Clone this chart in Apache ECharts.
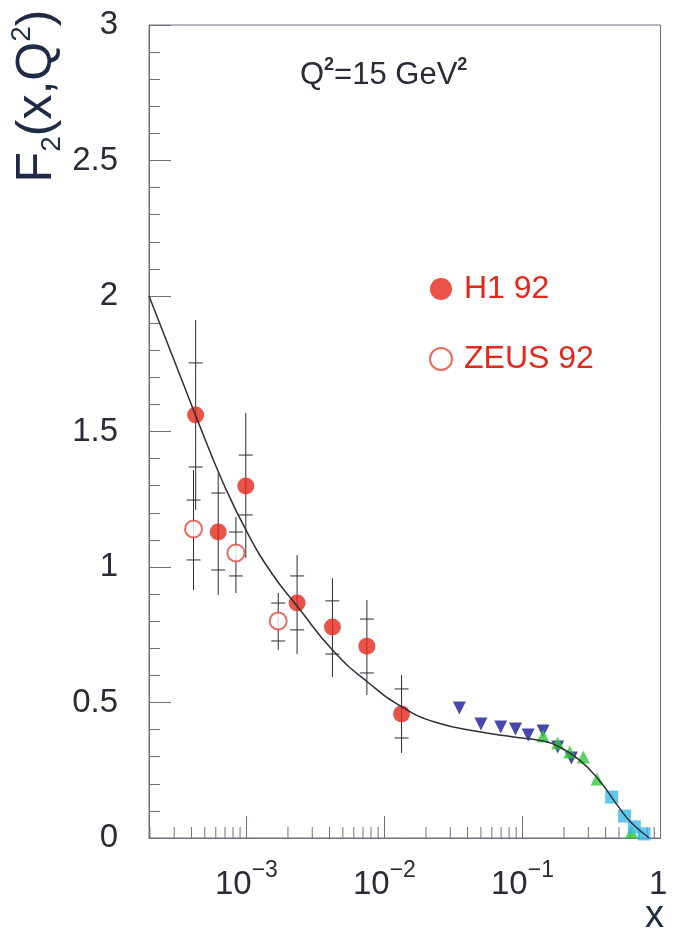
<!DOCTYPE html>
<html>
<head>
<meta charset="utf-8">
<script src="https://cdn.jsdelivr.net/npm/echarts@6/dist/echarts.min.js"></script>
<style>
  html, body { margin: 0; padding: 0; background: #fff; }
  #chart { width: 675px; height: 940px; }
</style>
</head>
<body>
<div id="chart"></div>
<script>
// fitted curve F2(x) at Q2 = 15 GeV2
const curveX = [1.97e-4, 2.99e-4, 4.51e-4, 6.79e-4, 1.02e-3, 1.54e-3, 2.33e-3, 4.27e-3, 7.7e-3, 1.35e-2, 2.31e-2, 0.050, 0.086, 0.141, 0.180, 0.258, 0.358, 0.498, 0.617, 0.828]
const curveY = [2.0, 1.764, 1.531, 1.310, 1.125, 0.974, 0.856, 0.690, 0.572, 0.483, 0.428, 0.391, 0.373, 0.358, 0.339, 0.288, 0.214, 0.114, 0.055, 0.0]

// H1 92 (filled circles) with inner / outer error ends
const h1X = [4.29e-4, 6.25e-4, 9.9e-4, 2.33e-3, 4.2e-3, 7.46e-3, 1.33e-2]
const h1Y = [1.561, 1.129, 1.299, 0.867, 0.779, 0.708, 0.458]
const h1Lo = [1.210, 0.897, 1.033, 0.679, 0.594, 0.528, 0.314]
const h1Hi = [1.911, 1.347, 1.568, 1.044, 0.959, 0.878, 0.601]
const h1InLo = [1.369, 0.989, 1.192, 0.768, 0.679, 0.609, 0.369]
const h1InHi = [1.753, 1.273, 1.413, 0.967, 0.875, 0.808, 0.550]

// ZEUS 92 (open circles)
const zeusX = [4.14e-4, 8.4e-4, 1.70e-3]
const zeusY = [1.140, 1.052, 0.801]
const zeusLo = [0.915, 0.904, 0.694]
const zeusHi = [1.358, 1.185, 0.904]
const zeusInLo = [1.026, 0.967, 0.727]
const zeusInHi = [1.247, 1.129, 0.867]

// fixed-target data
const blueX = [0.0349, 0.050, 0.0695, 0.089, 0.110, 0.141, 0.18, 0.226]
const blueY = [0.480, 0.421, 0.410, 0.402, 0.380, 0.395, 0.336, 0.295]
const greenX = [0.141, 0.18, 0.22, 0.276, 0.347, 0.616]
const greenY = [0.376, 0.351, 0.317, 0.299, 0.218, 0.022]
const cyanX = [0.443, 0.549, 0.646, 0.76]
const cyanY = [0.151, 0.081, 0.041, 0.015]

const yTicks = [0, 0.5, 1, 1.5, 2, 2.5, 3]
const decades = [-3, -2, -1, 0]

const FONT = 'Liberation Sans'
const AXIS = '#6f6f80'
const TXT = '#2b2b38'
const RED = '#e3281a'

// log minor ticks 2..9 x 10^k inside the range
const minorTicks = []
for (let k = -4; k <= -1; k++) {
  for (let m = 2; m <= 9; m++) {
    const v = m * Math.pow(10, k)
    if (v > 1.97e-4 && v < 1) minorTicks.push([v, 0])
  }
}

const chart = echarts.init(document.getElementById('chart'))

const errData = (xs, lo, hi, inLo, inHi) => xs.map((x, i) => [x, lo[i], hi[i], inLo[i], inHi[i]])

const errRender = (params, api) => {
  const x = api.value(0)
  const lo = api.coord([x, api.value(1)])
  const hi = api.coord([x, api.value(2)])
  const a = api.coord([x, api.value(3)])
  const b = api.coord([x, api.value(4)])
  const st = { stroke: '#2a2a36', lineWidth: 1 }
  return {
    type: 'group',
    children: [
      { type: 'line', shape: { x1: lo[0], y1: lo[1], x2: hi[0], y2: hi[1] }, style: st },
      { type: 'line', shape: { x1: a[0] - 7, y1: a[1], x2: a[0] + 7, y2: a[1] }, style: st },
      { type: 'line', shape: { x1: b[0] - 7, y1: b[1], x2: b[0] + 7, y2: b[1] }, style: st },
    ],
  }
}

const pair = (xs, ys) => xs.map((x, i) => [x, ys[i]])

const option = {
  animation: false,
  grid: {
    left: 149,
    right: 8,
    top: 25,
    bottom: 102,
    show: true,
    borderColor: AXIS,
    borderWidth: 1,
  },
  legend: {
    orient: 'vertical',
    left: 424,
    top: 268,
    itemWidth: 36,
    itemHeight: 22,
    itemGap: 38,
    textStyle: { fontFamily: FONT, fontSize: 32, color: RED, lineHeight: 32 },
    data: [
      { name: 'H1 92', icon: 'circle' },
      { name: 'ZEUS 92', icon: 'emptyCircle' },
    ],
  },
  xAxis: {
    type: 'log',
    logBase: 10,
    min: 1.97e-4,
    max: 1,
    axisLine: { lineStyle: { color: AXIS } },
    axisTick: { inside: true, length: 22, lineStyle: { color: AXIS } },
    splitLine: { show: false },
    axisLabel: {
      margin: 21,
      formatter: (v) => {
        const e = Math.round(Math.log10(v))
        if (Math.abs(Math.log10(v) - e) > 1e-6 || decades.indexOf(e) < 0) return ''
        if (e === 0) return '{b|1}{p|\u2009}'
        return '{b|10}{p|\u2212' + (-e) + '}'
      },
      rich: {
        b: { fontFamily: FONT, fontSize: 33, color: TXT },
        p: { fontFamily: FONT, fontSize: 23, color: TXT, padding: [0, 0, 28, 0] },
      },
    },
  },
  yAxis: {
    type: 'value',
    min: 0,
    max: 3,
    interval: 0.5,
    axisLine: { show: true, lineStyle: { color: AXIS } },
    axisTick: { inside: true, length: 22, lineStyle: { color: AXIS } },
    minorTick: { show: true, splitNumber: 5, length: 11, lineStyle: { color: AXIS } },
    splitLine: { show: false },
    axisLabel: {
      margin: 31,
      fontFamily: FONT,
      fontSize: 33,
      color: TXT,
      formatter: (v) => (yTicks.indexOf(v) >= 0 ? String(v) : ''),
    },
  },
  graphic: [
    {
      type: 'text',
      left: 300,
      top: 56,
      style: {
        text: '{a|Q}{s|2}{a|=15 GeV}{s|2}',
        rich: {
          a: { fontFamily: FONT, fontSize: 31, fill: TXT },
          s: { fontFamily: FONT, fontSize: 18, fontWeight: 'bold', fill: TXT, padding: [0, 0, 20, 0] },
        },
      },
    },
    {
      type: 'text',
      x: 37,
      y: 96,
      rotation: Math.PI / 2,
      style: {
        text: '{a|F}{d|2}{a|(x,Q}{s|2}{a|)}',
        align: 'center',
        verticalAlign: 'middle',
        rich: {
          a: { fontFamily: FONT, fontSize: 50, fill: '#1f2a44' },
          d: { fontFamily: FONT, fontSize: 28, fill: '#1f2a44', padding: [30, 0, 0, 0] },
          s: { fontFamily: FONT, fontSize: 28, fill: '#1f2a44', padding: [0, 0, 30, 0] },
        },
      },
    },
    {
      type: 'text',
      left: 645,
      top: 898,
      style: { text: 'x', fontFamily: FONT, fontSize: 38, fill: '#1f2a44' },
    },
  ],
  series: [
    {
      type: 'custom',
      name: 'minor',
      renderItem: (params, api) => {
        const p = api.coord([api.value(0), 0])
        return {
          type: 'line',
          shape: { x1: p[0], y1: p[1], x2: p[0], y2: p[1] - 11 },
          style: { stroke: AXIS, lineWidth: 1 },
        }
      },
      data: minorTicks,
      silent: true,
      z: 1,
    },
    {
      type: 'custom',
      name: 'H1 err',
      renderItem: errRender,
      data: errData(h1X, h1Lo, h1Hi, h1InLo, h1InHi),
      silent: true,
      z: 2,
    },
    {
      type: 'custom',
      name: 'ZEUS err',
      renderItem: errRender,
      data: errData(zeusX, zeusLo, zeusHi, zeusInLo, zeusInHi),
      silent: true,
      z: 2,
    },
    {
      type: 'scatter',
      name: 'blue',
      symbol: 'triangle',
      symbolRotate: 180,
      symbolSize: 13,
      itemStyle: { color: '#181c94' },
      data: pair(blueX, blueY),
      z: 3,
    },
    {
      type: 'scatter',
      name: 'green',
      symbol: 'triangle',
      symbolSize: 13,
      itemStyle: { color: '#2fc93a' },
      data: pair(greenX, greenY),
      z: 3,
    },
    {
      type: 'scatter',
      name: 'cyan',
      symbol: 'rect',
      symbolSize: 13,
      itemStyle: { color: '#3bb9ea' },
      data: pair(cyanX, cyanY),
      z: 3,
    },
    {
      type: 'scatter',
      name: 'H1 92',
      symbol: 'circle',
      symbolSize: 17,
      itemStyle: { color: RED },
      data: pair(h1X, h1Y),
      z: 3,
    },
    {
      type: 'scatter',
      name: 'ZEUS 92',
      symbol: 'emptyCircle',
      symbolSize: 17,
      itemStyle: { color: '#e5473a', borderWidth: 1.5 },
      data: pair(zeusX, zeusY),
      z: 3,
    },
    {
      type: 'line',
      name: 'fit',
      smooth: 0.5,
      symbol: 'none',
      lineStyle: { color: '#2f2f36', width: 1.5 },
      data: pair(curveX, curveY),
      z: 4,
    },
  ],
}

chart.setOption(option)
</script>
</body>
</html>
